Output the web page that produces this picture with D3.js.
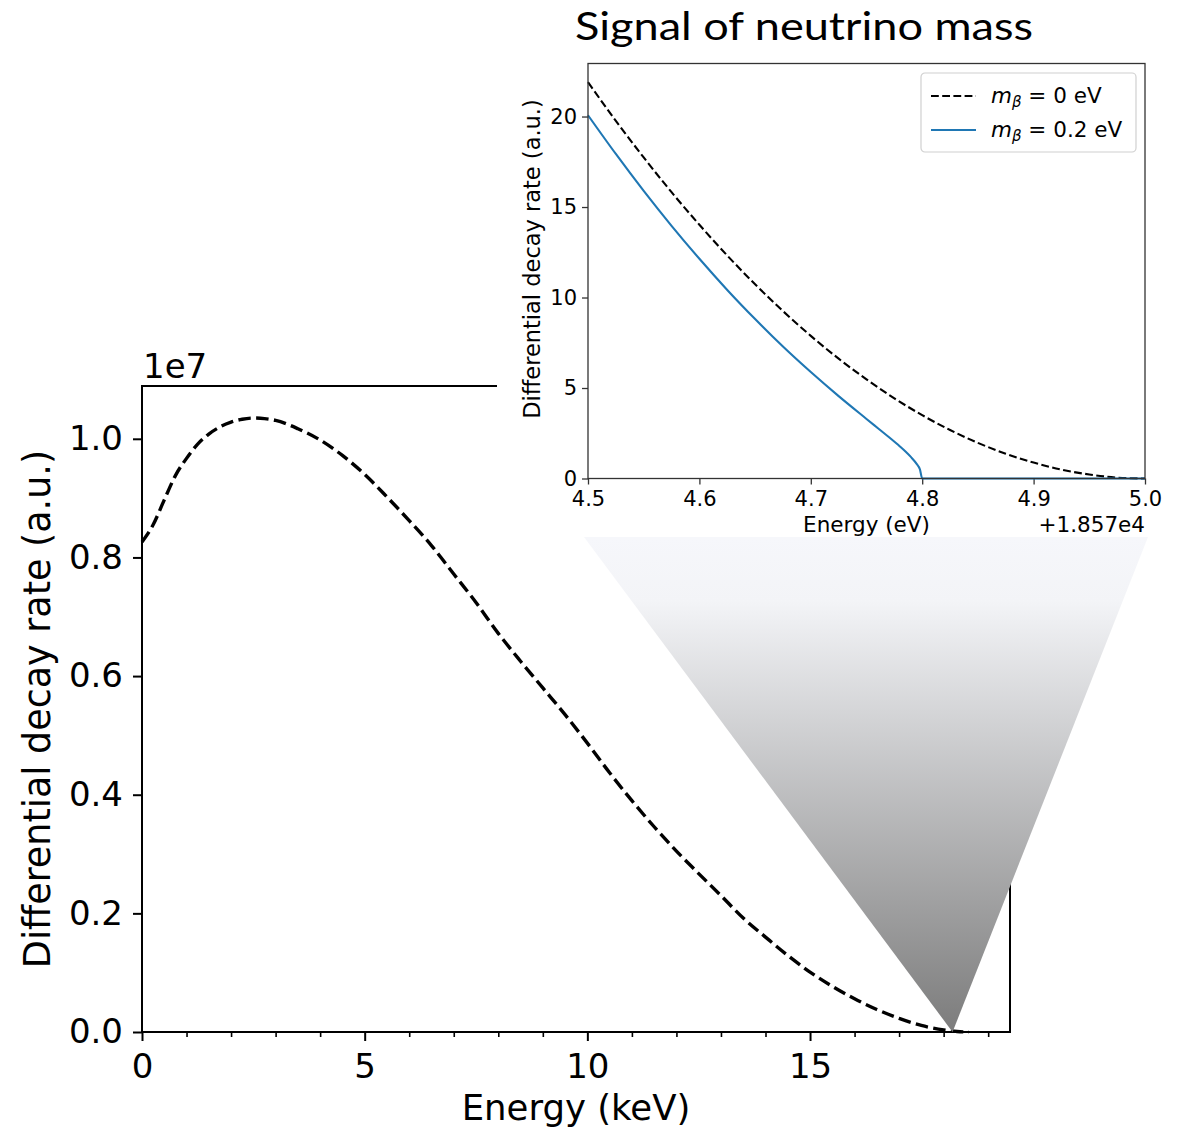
<!DOCTYPE html>
<html>
<head>
<meta charset="utf-8">
<script src="https://cdn.jsdelivr.net/npm/d3@7"></script>
<style>
  body { margin: 0; background: #fff; }
  text { font-family: "DejaVu Sans", sans-serif; fill: #000; }
</style>
</head>
<body>
<svg id="chart" width="1184" height="1128"></svg>
<script>
// ---- main spectrum (keV, rate in units of 1e7)
const mainEnergy = [0, 0.25, 0.5, 0.75, 1.0, 1.25, 1.5, 1.75, 2.0, 2.25, 2.5, 2.75, 3.0, 3.5, 4.0, 4.5,
    5.0, 5.5, 6.0, 6.5, 7.0, 7.5, 8.0, 8.5, 9.0, 9.5, 10.0, 10.5, 11.0, 11.5, 12.0, 12.5,
    13.0, 13.5, 14.0, 14.5, 15.0, 15.5, 16.0, 16.5, 17.0, 17.5, 18.0, 18.3, 18.57];
const mainRate = [0.826, 0.855, 0.897, 0.938, 0.967, 0.991, 1.008, 1.020, 1.028, 1.033, 1.035, 1.034, 1.031, 1.017, 0.998, 0.972,
    0.940, 0.902, 0.862, 0.820, 0.772, 0.724, 0.672, 0.625, 0.580, 0.535, 0.487, 0.437, 0.390, 0.346, 0.305, 0.267,
    0.230, 0.192, 0.160, 0.129, 0.101, 0.077, 0.056, 0.038, 0.023, 0.011, 0.0035, 0.0008, 0];
const mainMajorTicks = [0, 5, 10, 15];
const mainMinorTicks = [1, 2, 3, 4, 6, 7, 8, 9, 11, 12, 13, 14, 16, 17, 18, 19];
const mainYTicks = [0, 0.2, 0.4, 0.6, 0.8, 1.0];

// ---- inset: energy offset from 18570 eV
const insetEnergy = [4.5, 4.525, 4.55, 4.575, 4.6, 4.625, 4.65, 4.675, 4.7, 4.725, 4.75, 4.775, 4.8,
    4.825, 4.85, 4.875, 4.9, 4.925, 4.95, 4.975, 5.0];
const rateMassless = [21.90, 19.76, 17.74, 15.82, 14.02, 12.32, 10.73, 9.25, 7.88, 6.62, 5.48, 4.43, 3.50,
    2.68, 1.97, 1.37, 0.88, 0.49, 0.22, 0.05, 0];
const insetEnergyMassive = [4.5, 4.525, 4.55, 4.575, 4.6, 4.625, 4.65, 4.675, 4.7, 4.725, 4.75, 4.76, 4.77,
    4.78, 4.785, 4.79, 4.795, 4.798, 4.8, 4.9, 5.0];
const rateMassive = [20.07, 17.93, 15.89, 13.96, 12.14, 10.42, 8.81, 7.29, 5.88, 4.55, 3.29, 2.79, 2.29,
    1.77, 1.49, 1.18, 0.81, 0.50, 0, 0, 0];
const insetXTicks = [4.5, 4.6, 4.7, 4.8, 4.9, 5.0];
const insetYTicks = [0, 5, 10, 15, 20];
const legendLabels = ['0', '0.2'];

const svg = d3.select('#chart');
svg.append('rect').attr('width', 1184).attr('height', 1128).attr('fill', '#fff');

// ================= main axes =================
const m = { left: 142, right: 1010, top: 386, bottom: 1032 };
const x = d3.scaleLinear().domain([0, 19.49]).range([m.left, m.right]);
const y = d3.scaleLinear().domain([0, 1.089]).range([m.bottom, m.top]);

const mainG = svg.append('g');

// minor ticks
mainG.append('g')
    .attr('transform', `translate(0,${m.bottom})`)
    .call(d3.axisBottom(x).tickValues(mainMinorTicks).tickSize(5).tickFormat(''))
    .call(g => g.select('.domain').remove())
    .call(g => g.selectAll('line').attr('stroke-width', 1.6));

mainG.append('g')
    .attr('transform', `translate(0,${m.bottom})`)
    .call(d3.axisBottom(x).tickValues(mainMajorTicks).tickSize(9).tickPadding(13).tickFormat(d3.format('d')))
    .call(g => g.select('.domain').remove())
    .call(g => g.selectAll('line').attr('stroke-width', 2))
    .call(g => g.selectAll('text').style('font-size', '34px').style('font-family', 'DejaVu Sans'));

mainG.append('g')
    .attr('transform', `translate(${m.left},0)`)
    .call(d3.axisLeft(y).tickValues(mainYTicks).tickSize(9).tickPadding(10).tickFormat(d3.format('.1f')))
    .call(g => g.select('.domain').remove())
    .call(g => g.selectAll('line').attr('stroke-width', 2))
    .call(g => g.selectAll('text').style('font-size', '34px').style('font-family', 'DejaVu Sans'));

// spines
mainG.append('rect')
    .attr('x', m.left).attr('y', m.top)
    .attr('width', m.right - m.left).attr('height', m.bottom - m.top)
    .attr('fill', 'none').attr('stroke', '#000').attr('stroke-width', 2);

mainG.append('text')
    .attr('x', m.left + 1).attr('y', 378)
    .style('font-size', '34px')
    .text('1e7');

mainG.append('text')
    .attr('x', (m.left + m.right) / 2).attr('y', 1120)
    .attr('text-anchor', 'middle')
    .style('font-size', '35.5px')
    .text('Energy (keV)');

mainG.append('text')
    .attr('transform', `translate(50,${(m.top + m.bottom) / 2}) rotate(-90)`)
    .attr('text-anchor', 'middle')
    .style('font-size', '36.5px')
    .text('Differential decay rate (a.u.)');

const mainLine = d3.line()
    .x((d, i) => x(mainEnergy[i]))
    .y(d => y(d))
    .curve(d3.curveMonotoneX);

mainG.append('path')
    .datum(mainRate)
    .attr('d', mainLine)
    .attr('fill', 'none')
    .attr('stroke', '#000')
    .attr('stroke-width', 3.4)
    .attr('stroke-dasharray', '12.5,5.4');

// ================= inset background + title =================
const ins = { left: 588, right: 1145, top: 63.5, bottom: 478.5 };
const xi = d3.scaleLinear().domain([4.5, 5.0]).range([ins.left, ins.right]);
const yi = d3.scaleLinear().domain([0, 22.93]).range([ins.bottom, ins.top]);

svg.append('rect')
    .attr('x', 497).attr('y', 52)
    .attr('width', 668).attr('height', 487)
    .attr('fill', '#fff');

svg.append('text')
    .attr('x', 575).attr('y', 40)
    .attr('textLength', 458)
    .attr('lengthAdjust', 'spacingAndGlyphs')
    .style('font-family', 'Lato, "Open Sans", sans-serif')
    .style('font-size', '38px')
    .text('Signal of neutrino mass');

// ================= zoom triangle =================
const defs = svg.append('defs');
const grad = defs.append('linearGradient')
    .attr('id', 'zoom-grad')
    .attr('gradientUnits', 'userSpaceOnUse')
    .attr('x1', 0).attr('x2', 0)
    .attr('y1', 537).attr('y2', y(0));
grad.append('stop').attr('offset', '0%').attr('stop-color', '#f6f7fb');
grad.append('stop').attr('offset', '13%').attr('stop-color', '#f3f4f7');
grad.append('stop').attr('offset', '100%').attr('stop-color', '#7c7c7c');

const apex = [x(18.2), y(0)];
svg.append('path')
    .attr('d', `M584,537 L1148,537 L${apex[0]},${apex[1]} Z`)
    .attr('fill', 'url(#zoom-grad)');

// ================= inset =================
const insG = svg.append('g');

insG.append('g')
    .attr('transform', `translate(0,${ins.bottom})`)
    .call(d3.axisBottom(xi).tickValues(insetXTicks).tickSize(6).tickPadding(7).tickFormat(d3.format('.1f')))
    .call(g => g.select('.domain').remove())
    .call(g => g.selectAll('line').attr('stroke', '#333').attr('stroke-width', 1.3))
    .call(g => g.selectAll('text').style('font-size', '21px').style('font-family', 'DejaVu Sans'));

insG.append('g')
    .attr('transform', `translate(${ins.left},0)`)
    .call(d3.axisLeft(yi).tickValues(insetYTicks).tickSize(6).tickPadding(5).tickFormat(d3.format('d')))
    .call(g => g.select('.domain').remove())
    .call(g => g.selectAll('line').attr('stroke', '#333').attr('stroke-width', 1.3))
    .call(g => g.selectAll('text').style('font-size', '21px').style('font-family', 'DejaVu Sans'));

insG.append('text')
    .attr('x', (ins.left + ins.right) / 2).attr('y', 532)
    .attr('text-anchor', 'middle')
    .style('font-size', '21.5px')
    .text('Energy (eV)');

insG.append('text')
    .attr('x', ins.right).attr('y', 532)
    .attr('text-anchor', 'end')
    .style('font-size', '21.5px')
    .text('+1.857e4');

insG.append('text')
    .attr('transform', `translate(540,${(ins.top + ins.bottom) / 2 - 12}) rotate(-90)`)
    .attr('text-anchor', 'middle')
    .style('font-size', '22.5px')
    .text('Differential decay rate (a.u.)');

const insetLine = energies => d3.line()
    .x((d, i) => xi(energies[i]))
    .y(d => yi(d))
    .curve(d3.curveMonotoneX);

insG.append('path')
    .datum(rateMassless)
    .attr('d', insetLine(insetEnergy))
    .attr('fill', 'none')
    .attr('stroke', '#000')
    .attr('stroke-width', 2.1)
    .attr('stroke-dasharray', '7.8,3.4');

insG.append('path')
    .datum(rateMassive)
    .attr('d', insetLine(insetEnergyMassive))
    .attr('fill', 'none')
    .attr('stroke', '#1f77b4')
    .attr('stroke-width', 2.1);

insG.append('rect')
    .attr('x', ins.left).attr('y', ins.top)
    .attr('width', ins.right - ins.left).attr('height', ins.bottom - ins.top)
    .attr('fill', 'none').attr('stroke', '#333').attr('stroke-width', 1.3);

// legend
const leg = insG.append('g').attr('transform', 'translate(921,73)');
leg.append('rect')
    .attr('width', 215).attr('height', 79).attr('rx', 4)
    .attr('fill', '#fff').attr('stroke', '#d0d0d0').attr('stroke-width', 1.2);

const legendStyles = [
    { stroke: '#000', dash: '7.8,3.4' },
    { stroke: '#1f77b4', dash: null }
];
legendLabels.forEach((lab, i) => {
    const row = leg.append('g').attr('transform', `translate(0,${23 + i * 34})`);
    row.append('line')
        .attr('x1', 10).attr('x2', 55)
        .attr('stroke', legendStyles[i].stroke)
        .attr('stroke-width', 2.1)
        .attr('stroke-dasharray', legendStyles[i].dash);
    const t = row.append('text')
        .attr('x', 70).attr('y', 7)
        .style('font-size', '21.5px');
    t.append('tspan').style('font-style', 'italic').text('m');
    t.append('tspan').style('font-style', 'italic').style('font-size', '15px').attr('dy', 4).text('β');
    t.append('tspan').attr('dy', -4).text(` = ${lab} eV`);
});
</script>
</body>
</html>
